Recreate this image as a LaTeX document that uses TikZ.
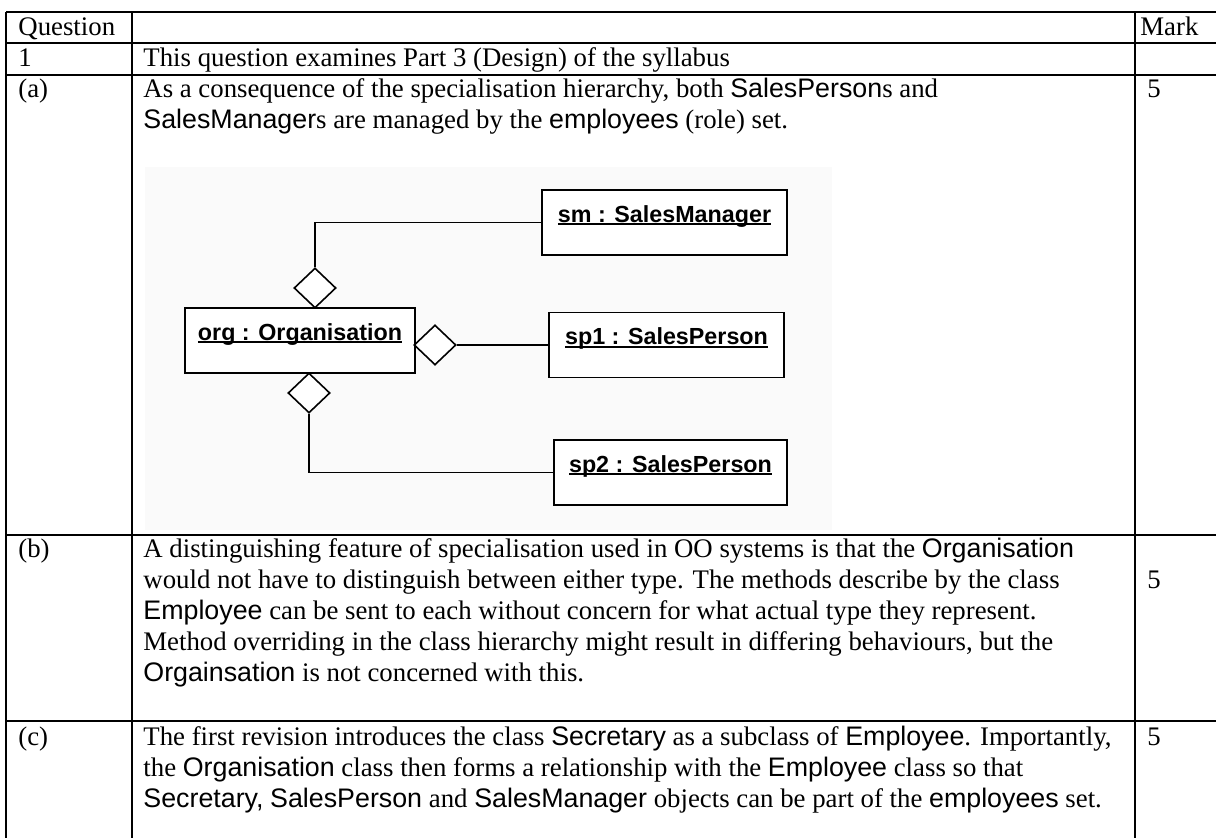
\documentclass[tikz,border=0pt]{standalone}
\usepackage{fontspec}
\setmainfont{Liberation Serif}
\newfontfamily\arialfont{Liberation Sans}
\newfontfamily\umlfont{Liberation Sans}
\usetikzlibrary{shapes.geometric}
% class / object names set in the sans face
\newcommand{\sw}[1]{{\arialfont #1}}
% underlined object name for the UML boxes
\newcommand{\umlname}[1]{\setbox0\hbox{#1}\rlap{\rule[-1.4pt]{\wd0}{0.9pt}}\box0}
\definecolor{diagbg}{HTML}{FAFAFA}
\begin{document}
\begin{tikzpicture}[x=0.5pt,y=-0.5pt,
  rule/.style={line width=1pt},
  txt/.style={anchor=base west, inner sep=0pt, font=\fontsize{13.4}{15.5}\selectfont},
  obj/.style={draw, line width=0.9pt, fill=white, inner sep=0pt, minimum height=32.5pt},
  objlbl/.style={anchor=base, inner sep=0pt, font=\umlfont\bfseries\fontsize{11.65}{14}\selectfont},
  agg/.style={draw, diamond, fill=white, line width=0.8pt, inner sep=0pt,
              minimum width=21pt, minimum height=20pt},
  link/.style={line width=0.8pt}]
\useasboundingbox (0,0) rectangle (1216,838);
\fill[white] (0,0) rectangle (1216,838);

% ---- table rules ----
\foreach \yy in {12,43,75,535,721}
  \draw[rule] (6,\yy) -- (1216,\yy);
\foreach \xx in {6,132,1135}
  \draw[rule] (\xx,12) -- (\xx,838);

% ---- header rows ----
\node[txt] (hq) at (18,36) {Question};
\node[txt] (hm) at (1140,36) {Mark};
\node[txt] (n1) at (18,67) {1};
\node[txt] (t1) at (143,67) {This question examines Part 3 (Design) of the syllabus};

% ---- part (a) ----
\node[txt] (pa) at (18,98) {(a)};
\node[txt] (a1) at (143,98) {As a consequence of the specialisation hierarchy, both \sw{SalesPerson}s and};
\node[txt] (a2) at (143,129) {\sw{SalesManager}s are managed by the \sw{employees} (role) set.};
\node[txt] (ma) at (1147,98) {5};

% ---- object diagram ----
\fill[diagbg] (145,167) rectangle (832,530);
\node[obj, minimum width=115pt] (org) at (300,340.5) {};
\node[obj, minimum width=122.5pt] (sm) at (664.5,222.5) {};
\node[obj, minimum width=117.5pt] (sp1) at (666.5,345) {};
\node[obj, minimum width=116.5pt] (sp2) at (670.5,472.5) {};
\node[objlbl] (lorg) at (org.center) {\umlname{org : Organisation}};
\node[objlbl] (lsm) at (sm.center) {\umlname{sm : SalesManager}};
\node[objlbl] (lsp1) at (sp1.center) {\umlname{sp1 : SalesPerson}};
\node[objlbl] (lsp2) at (sp2.center) {\umlname{sp2 : SalesPerson}};

\node[agg] (dt) at (315,288) {};
\node[agg] (dr) at (435,345) {};
\node[agg] (db) at (309,393) {};

\draw[link] (dt.north) |- (sm.west);
\draw[link] (dr.east) -- (sp1.west);
\draw[link] (db.south) |- (sp2.west);

% ---- part (b) ----
\node[txt] (pb) at (18,558) {(b)};
\node[txt] (b1) at (143,558) {A distinguishing feature of specialisation used in OO systems is that the \sw{Organisation}};
\node[txt] (b2) at (143,589) {would not have to distinguish between either type. The methods describe by the class};
\node[txt] (b3) at (143,620) {\sw{Employee} can be sent to each without concern for what actual type they represent.};
\node[txt] (b4) at (143,651) {Method overriding in the class hierarchy might result in differing behaviours, but the};
\node[txt] (b5) at (143,682) {\sw{Orgainsation} is not concerned with this.};
\node[txt] (mb) at (1147,589) {5};

% ---- part (c) ----
\node[txt] (pc) at (18,746) {(c)};
\node[txt] (c1) at (143,746) {The first revision introduces the class \sw{Secretary} as a subclass of \sw{Employee}. Importantly,};
\node[txt] (c2) at (143,777) {the \sw{Organisation} class then forms a relationship with the \sw{Employee} class so that};
\node[txt] (c3) at (143,808) {\sw{Secretary,} \sw{SalesPerson} and \sw{SalesManager} objects can be part of the \sw{employees} set.};
\node[txt] (mc) at (1147,746) {5};
\end{tikzpicture}
\end{document}
